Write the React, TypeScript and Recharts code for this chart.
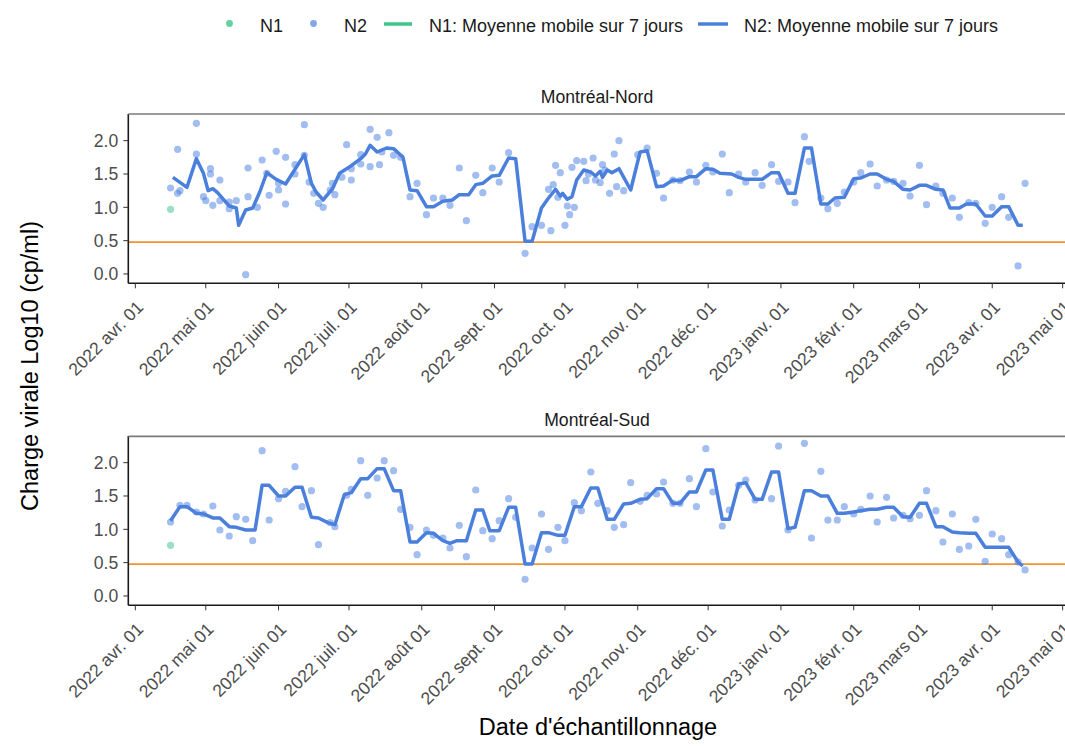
import React from "react"
import {
  ComposedChart, Scatter, Line, XAxis, YAxis, ReferenceLine,
} from "recharts"

// days since 2022-04-01 for the month ticks
const monthTicks = [0, 30, 61, 91, 122, 153, 183, 214, 244, 275, 306, 334, 365, 395]
const monthLabels = [
  "2022 avr. 01", "2022 mai 01", "2022 juin 01", "2022 juil. 01", "2022 août 01",
  "2022 sept. 01", "2022 oct. 01", "2022 nov. 01", "2022 déc. 01", "2023 janv. 01",
  "2023 févr. 01", "2023 mars 01", "2023 avr. 01", "2023 mai 01",
]
const yTicks = [0, 0.5, 1, 1.5, 2]
const seuil = 0.477 // log10(3)

// [jour, log10] — Montréal-Nord
const nordN1: [number, number][] = [[15, 0.97]]
const nordN2: [number, number][] = [
  [15,1.29],[18,1.87],[18,1.21],[19,1.25],[26,2.26],[26,1.80],[29,1.16],[30,1.10],[32,1.58],[32,1.50],
  [33,1.03],[36,1.41],[36,1.10],[40,1.08],[40,0.98],[43,1.10],[47,-0.01],[48,1.59],[48,1.16],[52,1.00],
  [54,1.71],[56,1.51],[57,1.18],[60,1.84],[61,1.36],[61,1.26],[64,1.75],[64,1.05],[68,1.64],[68,1.50],
  [72,2.24],[72,1.78],[74,1.38],[76,1.21],[78,1.06],[80,1.00],[83,1.26],[84,1.36],[85,1.19],[88,1.45],
  [90,1.94],[92,1.41],[92,1.58],[96,1.79],[96,1.65],[100,2.17],[100,1.61],[103,2.05],[104,1.64],[105,1.83],
  [108,2.12],[110,1.78],[113,1.75],[117,1.16],[120,1.36],[124,0.89],[127,1.14],[131,1.14],[134,1.03],[138,1.59],
  [141,0.80],[145,1.48],[148,1.22],[152,1.59],[155,1.38],[159,1.82],[166,0.31],[169,0.71],[173,0.73],[176,1.27],
  [177,0.65],[178,1.34],[179,1.63],[180,1.15],[181,1.52],[183,0.73],[184,1.02],[185,0.89],[186,1.60],[187,1.00],
  [188,1.70],[191,1.69],[192,1.40],[193,1.50],[195,1.74],[196,1.41],[198,1.37],[199,1.64],[200,1.56],[202,1.21],
  [204,1.80],[205,1.31],[206,2.00],[208,1.25],[214,1.79],[218,1.89],[222,1.51],[225,1.14],[229,1.41],[232,1.40],
  [236,1.53],[239,1.38],[243,1.63],[246,1.53],[250,1.80],[253,1.22],[257,1.50],[260,1.38],[264,1.52],[267,1.33],
  [271,1.64],[274,1.39],[278,1.38],[281,1.07],[285,2.06],[287,1.69],[292,1.14],[295,0.98],[299,1.06],[302,1.23],
  [306,1.38],[309,1.52],[313,1.65],[316,1.32],[320,1.41],[323,1.39],[327,1.36],[330,1.17],[334,1.63],[337,1.04],
  [341,1.32],[344,1.21],[348,1.14],[351,0.85],[355,1.07],[358,1.06],[362,0.76],[365,1.00],[369,1.16],[372,0.85],
  [376,0.12],[379,1.36],
]
const nordMoyenne: [number, number][] = [
  [16,1.45],[22,1.30],[26,1.73],[29,1.51],[31,1.25],[33,1.28],[35,1.22],[40,1.02],[43,0.99],[44,0.73],
  [47,0.96],[50,0.99],[53,1.23],[56,1.52],[60,1.42],[64,1.35],[72,1.79],[75,1.36],[77,1.23],[80,1.11],
  [84,1.28],[87,1.51],[91,1.60],[96,1.73],[98,1.80],[100,1.93],[103,1.83],[107,1.89],[110,1.88],[114,1.75],
  [117,1.26],[120,1.25],[124,1.01],[127,1.01],[131,1.09],[135,1.11],[138,1.19],[142,1.19],[145,1.34],[148,1.36],
  [152,1.47],[155,1.48],[159,1.74],[162,1.73],[166,0.49],[169,0.49],[173,0.99],[176,1.14],[179,1.27],[181,1.17],
  [182,1.21],[184,1.12],[186,1.16],[188,1.41],[191,1.56],[194,1.53],[196,1.47],[198,1.54],[199,1.45],[201,1.56],
  [203,1.52],[206,1.58],[211,1.26],[215,1.83],[218,1.85],[222,1.31],[225,1.32],[229,1.41],[232,1.40],[236,1.46],
  [239,1.46],[243,1.58],[246,1.57],[249,1.51],[254,1.50],[257,1.45],[260,1.42],[264,1.42],[267,1.42],[271,1.52],
  [274,1.52],[278,1.21],[281,1.21],[285,1.89],[288,1.89],[292,1.05],[295,1.05],[298,1.14],[302,1.15],[306,1.43],
  [309,1.44],[313,1.50],[316,1.50],[320,1.42],[323,1.39],[327,1.27],[330,1.26],[334,1.33],[337,1.33],[341,1.27],
  [344,1.26],[347,0.99],[351,0.99],[354,1.05],[358,1.05],[362,0.87],[365,0.87],[369,1.01],[372,1.01],[376,0.73],
  [378,0.73],
]

// Montréal-Sud
const sudN1: [number, number][] = [[15, 0.76]]
const sudN2: [number, number][] = [
  [15,1.11],[19,1.36],[22,1.36],[26,1.26],[29,1.23],[33,1.35],[36,0.99],[40,0.90],[43,1.19],[47,1.15],
  [50,0.83],[54,2.18],[57,1.14],[61,1.46],[64,1.57],[68,1.94],[71,1.34],[75,1.58],[78,0.77],[83,1.10],
  [85,1.04],[90,1.51],[92,1.60],[96,2.03],[99,1.51],[103,1.77],[106,2.03],[110,1.88],[113,1.30],[117,1.03],
  [120,0.62],[124,0.99],[127,0.91],[131,0.87],[134,0.72],[138,1.06],[141,0.59],[145,1.59],[148,0.98],[152,0.86],
  [155,1.13],[159,1.46],[162,1.18],[166,0.25],[169,0.72],[173,1.23],[176,0.70],[180,1.03],[183,0.83],[187,1.40],
  [190,1.28],[194,1.86],[197,1.39],[201,1.28],[204,1.03],[208,1.07],[211,1.70],[215,1.42],[218,1.51],[222,1.53],
  [225,1.71],[229,1.39],[232,1.39],[236,1.76],[239,1.34],[243,2.21],[246,1.56],[250,1.05],[253,1.29],[257,1.66],
  [260,1.74],[264,1.44],[271,1.46],[274,2.25],[278,0.99],[285,2.29],[288,0.87],[292,1.87],[295,1.14],[299,1.14],
  [302,1.34],[306,1.23],[309,1.30],[313,1.50],[316,1.11],[320,1.48],[323,1.17],[327,1.21],[330,1.16],[334,1.21],
  [337,1.58],[341,1.28],[344,0.81],[348,1.23],[351,0.70],[355,0.75],[358,1.15],[362,0.52],[365,0.93],[369,0.86],
  [372,0.62],[376,0.51],[379,0.39],
]
const sudMoyenne: [number, number][] = [
  [15,1.13],[19,1.34],[22,1.34],[26,1.24],[29,1.23],[33,1.17],[36,1.17],[40,1.04],[43,1.03],[47,0.99],
  [51,0.99],[54,1.66],[57,1.66],[61,1.50],[64,1.50],[68,1.63],[71,1.63],[75,1.18],[78,1.17],[82,1.10],
  [85,1.07],[89,1.52],[92,1.55],[96,1.76],[99,1.76],[103,1.91],[106,1.91],[110,1.58],[113,1.58],[117,0.81],
  [120,0.81],[124,0.95],[127,0.94],[131,0.83],[134,0.79],[137,0.83],[141,0.83],[145,1.29],[148,1.29],[151,0.98],
  [155,0.98],[159,1.33],[162,1.33],[166,0.48],[169,0.48],[173,0.95],[176,0.95],[180,0.91],[183,0.91],[187,1.34],
  [190,1.34],[194,1.62],[197,1.62],[201,1.15],[204,1.15],[208,1.38],[211,1.39],[215,1.45],[218,1.46],[222,1.61],
  [225,1.61],[229,1.39],[232,1.39],[236,1.56],[239,1.56],[243,1.89],[246,1.89],[250,1.15],[253,1.15],[257,1.68],
  [260,1.70],[264,1.45],[267,1.45],[271,1.86],[274,1.86],[278,1.01],[281,1.03],[285,1.58],[288,1.58],[292,1.50],
  [295,1.50],[299,1.24],[302,1.24],[306,1.26],[309,1.28],[313,1.30],[316,1.30],[320,1.33],[323,1.33],[327,1.19],
  [330,1.18],[334,1.39],[337,1.39],[341,1.04],[344,1.04],[348,0.96],[351,0.95],[355,0.94],[358,0.94],[362,0.73],
  [365,0.73],[369,0.73],[372,0.73],[376,0.51],[378,0.45],
]

const FONT = "'Liberation Sans', Arial, sans-serif"
const GREEN = "#3CC68A"
const BLUE = "#4A7FDB"
const ORANGE = "#F59331"

const toRows = (pairs: [number, number][]) => pairs.map(([d, v]) => ({ d, v }))

function MonthTick(props: any) {
  const { x, y, payload } = props
  const i = monthTicks.indexOf(payload.value)
  const ax = x + 9
  const ay = y + 18
  return (
    <text x={ax} y={ay} transform={`rotate(-45 ${ax} ${ay})`} textAnchor="end"
      fill="#4d4d4d" fontSize={17.6} fontFamily={FONT}>
      {monthLabels[i]}
    </text>
  )
}

const dot = (color: string) => (p: any) =>
  <circle cx={p.cx} cy={p.cy} r={3.6} fill={color} fillOpacity={0.52} />

function Panel({ n1, n2, moyenne, top }: {
  n1: [number, number][]; n2: [number, number][]; moyenne: [number, number][]; top: number
}) {
  return (
    <div style={{ position: "absolute", left: 0, top }}>
      <ComposedChart width={1065} height={400} margin={{ top: 114, right: 0, bottom: 0, left: 0 }}>
        <XAxis type="number" dataKey="d" domain={[-3, 396]} ticks={monthTicks} interval={0}
          allowDataOverflow height={116.7} tickSize={5} tick={<MonthTick />}
          axisLine={{ stroke: "#1a1a1a", strokeWidth: 1.6 }} tickLine={{ stroke: "#333" }} />
        <YAxis type="number" dataKey="v" domain={[-0.14, 2.4]} ticks={yTicks} allowDataOverflow
          width={128.3} tickSize={5} tickMargin={5} tickFormatter={(v: number) => v.toFixed(1)}
          tick={{ fill: "#4d4d4d", fontSize: 17.6, fontFamily: FONT }}
          axisLine={{ stroke: "#1a1a1a", strokeWidth: 1.6 }} tickLine={{ stroke: "#333" }} />
        <ReferenceLine y={seuil} stroke={ORANGE} strokeWidth={1.6} />
        <Scatter data={toRows(n1)} dataKey="v" shape={dot(GREEN)} isAnimationActive={false} />
        <Scatter data={toRows(n2)} dataKey="v" shape={dot("#4D81E0")} isAnimationActive={false} />
        <Line data={toRows(moyenne)} dataKey="v" type="linear" stroke={BLUE} strokeWidth={3.5}
          dot={false} isAnimationActive={false} strokeLinejoin="round" />
      </ComposedChart>
    </div>
  )
}

export default function App() {
  return (
    <div style={{ position: "absolute", left: 0, top: 0, width: 1065, height: 748, background: "#fff", overflow: "hidden" }}>
      <Panel n1={nordN1} n2={nordN2} moyenne={nordMoyenne} top={0} />
      <Panel n1={sudN1} n2={sudN2} moyenne={sudMoyenne} top={322.4} />
      <svg width={1065} height={748} style={{ position: "absolute", left: 0, top: 0, pointerEvents: "none" }}
        fontFamily={FONT}>
        {/* legend */}
        <circle cx={229.5} cy={23.5} r={3.4} fill={GREEN} fillOpacity={0.8} />
        <text x={260} y={31.5} fontSize={18} fill="#1a1a1a">N1</text>
        <circle cx={313.5} cy={23.5} r={3.4} fill="#4D81E0" fillOpacity={0.7} />
        <text x={344} y={31.5} fontSize={18} fill="#1a1a1a">N2</text>
        <line x1={384} x2={412} y1={24} y2={24} stroke={GREEN} strokeWidth={3.5} />
        <text x={429} y={31.5} fontSize={18} fill="#1a1a1a">N1: Moyenne mobile sur 7 jours</text>
        <line x1={698} x2={728} y1={24} y2={24} stroke={BLUE} strokeWidth={3.5} />
        <text x={744} y={31.5} fontSize={18} fill="#1a1a1a">N2: Moyenne mobile sur 7 jours</text>
        {/* strips and panel tops */}
        <text x={597} y={103} fontSize={17.6} textAnchor="middle" fill="#1a1a1a">Montréal-Nord</text>
        <line x1={128.3} x2={1065} y1={114} y2={114} stroke="#7a7a7a" strokeWidth={1.6} />
        <text x={597} y={426} fontSize={17.6} textAnchor="middle" fill="#1a1a1a">Montréal-Sud</text>
        <line x1={128.3} x2={1065} y1={436.4} y2={436.4} stroke="#7a7a7a" strokeWidth={1.6} />
        {/* axis titles */}
        <text x={38} y={366} fontSize={23.5} textAnchor="middle" transform="rotate(-90 38 366)" fill="#000">
          Charge virale Log10 (cp/ml)
        </text>
        <text x={598} y={735} fontSize={23.5} textAnchor="middle" fill="#000">Date d'échantillonnage</text>
      </svg>
    </div>
  )
}
